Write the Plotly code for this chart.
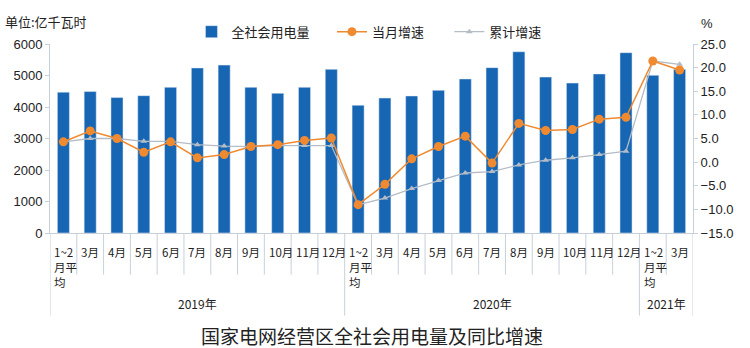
import plotly.graph_objects as go

# ---- data ----
keys = ["2019-1~2", "2019-3", "2019-4", "2019-5", "2019-6", "2019-7", "2019-8", "2019-9",
        "2019-10", "2019-11", "2019-12",
        "2020-1~2", "2020-3", "2020-4", "2020-5", "2020-6", "2020-7", "2020-8", "2020-9",
        "2020-10", "2020-11", "2020-12",
        "2021-1~2", "2021-3"]
month_labels = ["1~2<br>月平<br>均", "3月", "4月", "5月", "6月", "7月", "8月", "9月", "10月", "11月", "12月",
                "1~2<br>月平<br>均", "3月", "4月", "5月", "6月", "7月", "8月", "9月", "10月", "11月", "12月",
                "1~2<br>月平<br>均", "3月"]
years = ["2019年", "2020年", "2021年"]
year_sizes = [11, 11, 2]

consumption = [4470, 4490, 4300, 4360, 4625, 5240, 5330, 4625, 4435, 4625, 5195,
               4055, 4285, 4350, 4530, 4890, 5250, 5755, 4950, 4760, 5050, 5725,
               5005, 5195]
monthly_growth = [4.3, 6.6, 5.0, 2.1, 4.3, 0.9, 1.6, 3.3, 3.7, 4.6, 5.1,
                  -9.0, -4.7, 0.7, 3.3, 5.5, -0.2, 8.2, 6.7, 6.9, 9.1, 9.5,
                  21.4, 19.5]
cumulative_growth = [4.3, 5.0, 5.0, 4.4, 4.4, 3.7, 3.4, 3.3, 3.5, 3.5, 3.5,
                     -9.0, -7.6, -5.6, -3.9, -2.3, -2.0, -0.6, 0.4, 0.9, 1.6, 2.3,
                     21.4, 20.7]

left_ticks = [0, 1000, 2000, 3000, 4000, 5000, 6000]
right_ticks = [-15, -10, -5, 0, 5, 10, 15, 20, 25]

FONT = "Liberation Sans, Noto Sans CJK SC, sans-serif"
CJK = "Noto Sans CJK SC, sans-serif"
BLUE = "#1766b4"
ORANGE = "#f08a30"
GRAY = "#b4bcc6"
AXIS = "#c7d0da"

fig = go.Figure()
fig.add_trace(go.Bar(x=keys, y=consumption, name="全社会用电量" + "\u00a0" * 6, marker_color=BLUE,
                     width=0.45, yaxis="y", legendrank=1))
fig.add_trace(go.Scatter(x=keys, y=cumulative_growth, name="累计增速", mode="lines+markers",
                         line=dict(color=GRAY, width=1.3), legendrank=3,
                         marker=dict(color=GRAY, size=6, symbol="triangle-up"), yaxis="y2"))
fig.add_trace(go.Scatter(x=keys, y=monthly_growth, name="当月增速" + "\u00a0" * 7, mode="lines+markers",
                         line=dict(color=ORANGE, width=1.5), legendrank=2,
                         marker=dict(color=ORANGE, size=9, symbol="circle"), yaxis="y2"))

n = len(keys)
shapes = []
# month separators
for i in range(n + 1):
    boundary = i in (0, 11, 22, 24)
    shapes.append(dict(type="line", xref="x", yref="paper", x0=i - 0.5, x1=i - 0.5,
                       y0=0, y1=(-0.437 if boundary else -0.22),
                       line=dict(color=AXIS, width=1)))
annotations = []
for k, lab in zip(keys, month_labels):
    annotations.append(dict(x=k, xref="x", y=-0.045, yref="paper", text=lab, showarrow=False,
                            xanchor="left", yanchor="top", xshift=-11, align="left",
                            font=dict(family=CJK, size=11.5, color="#222")))
start = 0
for yl, sz in zip(years, year_sizes):
    center = start + (sz - 1) / 2
    annotations.append(dict(x=center, xref="x", y=-0.375, yref="paper", text=yl, showarrow=False,
                            xanchor="center", yanchor="middle",
                            font=dict(family=CJK, size=12, color="#222")))
    start += sz
annotations.append(dict(x=0, xref="paper", xshift=-47, y=1.12, yref="paper", yanchor="middle",
                        xanchor="left", text="单位:亿千瓦时", showarrow=False,
                        font=dict(family=CJK, size=13, color="#222")))
annotations.append(dict(x=1, xref="paper", xshift=6, y=1.11, yref="paper", yanchor="middle",
                        xanchor="left", text="%", showarrow=False,
                        font=dict(family=FONT, size=13, color="#222")))
annotations.append(dict(x=0.5, xref="paper", y=-0.54, yref="paper", yanchor="middle",
                        xanchor="center", xshift=0,
                        text="国家电网经营区全社会用电量及同比增速", showarrow=False,
                        font=dict(family=CJK, size=19, color="#222")))

fig.update_layout(
    width=750, height=348,
    margin=dict(l=50, r=57, t=44, b=115),
    plot_bgcolor="white", paper_bgcolor="white",
    showlegend=True,
    legend=dict(orientation="h", x=0.22, y=1.065, xanchor="left", yanchor="middle",
                font=dict(family=CJK, size=13, color="#222"), itemwidth=30,
                traceorder="normal", bgcolor="rgba(0,0,0,0)"),
    xaxis=dict(type="category", categoryorder="array", categoryarray=keys,
               range=[-0.5, n - 0.5], showticklabels=False, showgrid=False,
               showline=True, linecolor=AXIS, ticks=""),
    yaxis=dict(range=[0, 6000], tickvals=left_ticks, showgrid=False, zeroline=False,
               showline=True, linecolor=AXIS, ticks="outside", ticklen=4, tickcolor=AXIS,
               tickfont=dict(family=FONT, size=13, color="#222")),
    yaxis2=dict(range=[-15, 25], tickvals=right_ticks, tickformat=".1f",
                overlaying="y", side="right", showgrid=False, zeroline=False,
                showline=True, linecolor=AXIS, ticks="outside", ticklen=4, tickcolor=AXIS,
                tickfont=dict(family=FONT, size=13, color="#222")),
    shapes=shapes, annotations=annotations,
    bargap=0.5,
)
fig.write_html("out.html")
